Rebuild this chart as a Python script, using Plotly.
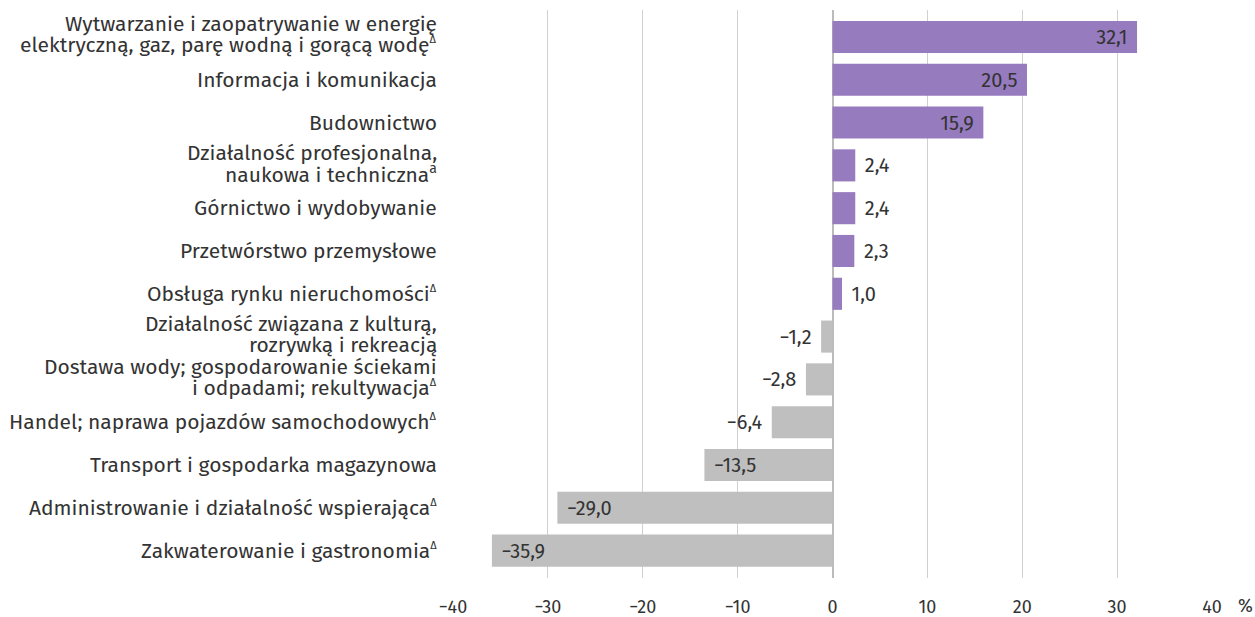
import plotly.graph_objects as go

categories = [
    "Wytwarzanie i zaopatrywanie w energię<br>elektryczną, gaz, parę wodną i gorącą wodę<sup>Δ</sup>",
    "Informacja i komunikacja",
    "Budownictwo",
    "Działalność profesjonalna,<br>naukowa i techniczna<sup>a</sup>",
    "Górnictwo i wydobywanie",
    "Przetwórstwo przemysłowe",
    "Obsługa rynku nieruchomości<sup>Δ</sup>",
    "Działalność związana z kulturą,<br>rozrywką i rekreacją",
    "Dostawa wody; gospodarowanie ściekami<br>i odpadami; rekultywacja<sup>Δ</sup>",
    "Handel; naprawa pojazdów samochodowych<sup>Δ</sup>",
    "Transport i gospodarka magazynowa",
    "Administrowanie i działalność wspierająca<sup>Δ</sup>",
    "Zakwaterowanie i gastronomia<sup>Δ</sup>",
]
values = [32.1, 20.5, 15.9, 2.4, 2.4, 2.3, 1.0, -1.2, -2.8, -6.4, -13.5, -29.0, -35.9]
x_ticks = [-40, -30, -20, -10, 0, 10, 20, 30, 40]
x_ticktext = ["−40", "−30", "−20", "−10", "0", "10", "20", "30", "40"]

FONT = "Fira Sans, Noto Sans, sans-serif"
TXT = "#333333"
PAD = "\u00a0\u200a"
colors = ["#967BBE" if v > 0 else "#BFBFBF" for v in values]
positions = ["inside" if abs(v) > 10 else "outside" for v in values]
labels = []
for v, p in zip(values, positions):
    s = f"{v:.1f}".replace(".", ",").replace("-", "−")
    if (p == "outside") == (v > 0):
        s = PAD + s
    else:
        s = s + PAD
    labels.append(s)
ids = list(range(len(categories)))

fig = go.Figure()
fig.add_trace(go.Bar(
    y=ids, x=values, orientation="h",
    marker=dict(color=colors, line=dict(width=0)),
    text=labels, textposition=positions, insidetextanchor="end",
    textangle=0, cliponaxis=False,
    textfont=dict(family=FONT, size=20, color=TXT),
    width=0.75, hoverinfo="skip",
))

# category labels with tight line spacing
annotations = []
LINE_H = 21
for i, cat in enumerate(categories):
    lines = cat.split("<br>")
    n = len(lines)
    for j, ln in enumerate(lines):
        ln = (ln.replace("<sup>Δ</sup>", "<sup><span style='font-size:11px'>Δ</span></sup>")
                .replace("<sup>a</sup>", "<sup><span style='font-size:14px'>a</span></sup>"))
        annotations.append(dict(
            text=ln, x=0, xref="paper", y=i, yref="y",
            xanchor="right", yanchor="middle", xshift=-14,
            yshift=((n - 1) / 2 - j) * LINE_H + (2 if n > 1 else 0),
            showarrow=False, font=dict(family=FONT, size=21, color=TXT),
        ))
annotations.append(dict(
    text="%", x=1.0, xref="paper", y=0, yref="paper",
    xanchor="left", yanchor="middle", xshift=24, yshift=-28,
    showarrow=False, font=dict(family=FONT, size=18, color=TXT),
))

fig.update_layout(
    width=1255, height=617,
    margin=dict(l=453, r=43, t=10, b=39, autoexpand=False),
    paper_bgcolor="white", plot_bgcolor="white",
    font=dict(family=FONT, size=18, color=TXT),
    showlegend=False,
    xaxis=dict(
        range=[-40, 40], tickvals=x_ticks, ticktext=x_ticktext,
        showgrid=True, gridcolor="#D0D0D0", gridwidth=1,
        zeroline=True, zerolinecolor="#BBBBBB", zerolinewidth=2,
        ticks="outside", ticklen=12, tickcolor="rgba(0,0,0,0)",
        tickfont=dict(family=FONT, size=18, color=TXT),
        showline=False, fixedrange=True, automargin=False,
    ),
    yaxis=dict(
        autorange=False, range=[12.64, -0.63],
        showgrid=False, showticklabels=False, zeroline=False,
        showline=False, automargin=False, fixedrange=True,
    ),
    annotations=annotations,
)

fig.write_html(
    "out.html",
    config={"displayModeBar": False, "staticPlot": True},
    post_script="document.body.style.margin='0';document.body.style.overflow='hidden';",
)
